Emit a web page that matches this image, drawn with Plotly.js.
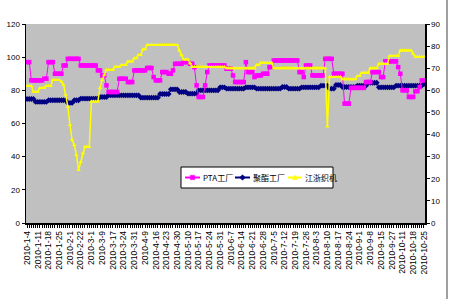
<!DOCTYPE html>
<html>
<head>
<meta charset="utf-8">
<script src="https://cdn.plot.ly/plotly-3.0.1.min.js"></script>
<style>html,body{margin:0;padding:0;background:#fff}#chart{width:450px;height:300px}</style>
</head>
<body>
<div id="chart"></div>
<script>
// Tick labels (every 5th trading day)
const tickLabels = ['2010-1-4','2010-1-11','2010-1-18','2010-1-25','2010-2-1','2010-2-22','2010-3-1','2010-3-9','2010-3-17','2010-3-24','2010-3-31','2010-4-9','2010-4-16','2010-4-23','2010-4-30','2010-5-10','2010-5-17','2010-5-24','2010-5-31','2010-6-7','2010-6-14','2010-6-21','2010-6-28','2010-7-5','2010-7-12','2010-7-19','2010-7-26','2010-8-3','2010-8-10','2010-8-17','2010-8-24','2010-9-1','2010-9-8','2010-9-15','2010-9-27','2010-10-11','2010-10-18','2010-10-25'];

const seriesNames = ['PTA工厂','聚酯工厂','江浙织机'];
const seriesColors = ['#ff00ff','#000080','#ffff00'];

// PTA工厂 (left axis)
const pta = [97,97, 86,86,86,86,86,86, 87,87, 97,97,97, 90,90,90,90, 95,95, 99,99,99,99,99,99,
 95,95,95,95,95,95,95,95, 92,92,89,89,83, 79,79,79,79,79, 87,87,87,87, 85,85,85,
 92,92,92,92,92,92, 93.5,93.5,93.5, 88, 86,86,86, 91,91,91, 90,90, 92, 96,96,96,96,
 97,97,97, 96,96, 94, 83, 76,76,76, 83, 91, 95,95,95,95,95,95,95,95, 93,93,93, 89,
 85,85,85,85,85, 97, 91,91,91, 88, 89,89,89, 90,90,90, 94,94,
 98,98,98,98,98,98,98,98,98,98,98,98, 91,91, 88, 95,95,95, 89,89,89,89,89,89,
 99,99,99,99, 90,90,90,90,90, 72,72,72, 81.5,81.5,81.5,81.5,81.5,81.5,81.5,
 85,85,85, 91,91,91,91, 88,88, 97.5,97.5,97.5,97.5,97.5,97.5, 94, 90, 80,80,80,
 76,76,76, 79.5,79.5, 82, 86,86];

// 聚酯工厂 (left axis)
const polyester = [74.8,74.8,74.8,74.8, 73,73,73,73,73,73, 74,74,74,74,74,74,74,74,74,
 72.4,72.4,72.4, 74,74,74, 75,75,75,75,75,75,75,75,75, 76,76,76,76,
 77,77,77,77,77,77,77,77,77,77,77,77,77,77,77, 75.6,75.6,75.6,75.6,75.6,75.6,75.6,75.6,75.6,
 77.8,77.8,77.8,77.8,77.8, 80.6,80.6,80.6,80.6, 79,79,79,79, 78,78,78,78,78,
 80,80,80,80,80,80,80,80,80,80, 81.8,81.8,81.8, 81,81,81,81,81,81,81,81,81,
 81.8,81.8,81.8,81.8,81.8, 81,81,81,81,81,81,81,81,81,81,81,81, 82,82,82,
 81,81,81,81,81,81, 81.8,81.8,81.8,81.8,81.8,81.8,81.8,81.8,81.8, 82.8,82.8,82.8,82.8,
 81,81,81, 83.2,83.2,83.2, 82,82,82,82,82,82,82, 82.8,82.8,82.8,82.8,82.8,
 84.6,84.6,84.6,84.6,84.6, 81.8,81.8,81.8,81.8,81.8,81.8,81.8,81.8,
 82.8,82.8,82.8,82.8,82.8,82.8,82.8,82.8,82.8,82.8,82.8,82.8,82.8, 83.8];

// 江浙织机 (right axis)
const looms = [62,62,62, 59.4,59.4,59.4, 61,61,61, 62,62,62, 64.7,64.7,64.7,64.7, 64, 62.4, 58,
 52.6, 44.3, 37.5, 35.3, 30.8, 24, 27.7, 31.5, 34.5,34.5,34.5, 55,55,55,55, 61, 64.7, 67,
 69.2,69.2,69.2,69.2, 70.7,70.7,70.7, 71.5,71.5,71.5, 73,73,73, 74.5,74.5, 76,76, 78.6,78.6,
 80.5,80.5,80.5,80.5,80.5,80.5,80.5,80.5,80.5,80.5,80.5,80.5,80.5,80.5,80.5, 78, 76, 74,74,74, 72.2,
 70.5,70.5,70.5,70.5,70.5,70.5,70.5,70.5,70.5,70.5,70.5,70.5,70.5,70.5,70.5,70.5,
 70,70,70,70,70,70,70,70,70,70,70,70,70,70, 71.5,71.5, 72.5,72.5,72.5,72.5,72.5,72.5,
 70,70,70,70,70,70,70,70,70,70,70,70,70,70,70,70,70,70,70,70,70,70,70,70,70, 43.6,
 66,66,66,66,66,66, 65,65,65,65,65,65,65, 66.5,66.5, 68,68,68,68, 70,70,70,70,
 72,72,72,72,72, 75.5,75.5,75.5,75.5,75.5, 78,78,78,78,78,78, 76.5, 75.2,75.2,75.2,75.2,75.2];

const idx = pta.map((_, i) => i);
const tickVals = tickLabels.map((_, k) => k * 5);

const axisFont = {family: 'Liberation Sans, Arial, sans-serif', size: 8, color: '#000'};

const traces = [
  {x: idx, y: looms, name: seriesNames[2], type: 'scatter', mode: 'lines+markers', yaxis: 'y2',
   line: {color: seriesColors[2], width: 1.5}, marker: {symbol: 'triangle-up', size: 4, color: seriesColors[2]}},
  {x: idx, y: polyester, name: seriesNames[1], type: 'scatter', mode: 'lines+markers',
   line: {color: seriesColors[1], width: 1}, marker: {symbol: 'diamond', size: 4.5, color: seriesColors[1]}},
  {x: idx, y: pta, name: seriesNames[0], type: 'scatter', mode: 'lines+markers',
   line: {color: seriesColors[0], width: 1}, marker: {symbol: 'square', size: 4.5, color: seriesColors[0]}}
];

// Custom legend (box, sample lines, sample markers, text) in paper coordinates
const PL = 26, PW = 399, PT = 24, PH = 199;
const px = v => (v - PL) / PW;
const py = v => (PT + PH - v) / PH;
const legY = py(177.5);
const legItems = [
  {l0: 185, l1: 200, tx: 201, path: 'M-2.2,-2.2 L2.2,-2.2 L2.2,2.2 L-2.2,2.2 Z'},
  {l0: 235, l1: 250, tx: 251, path: 'M0,-2.8 L2.8,0 L0,2.8 L-2.8,0 Z'},
  {l0: 288, l1: 302, tx: 303, path: 'M-2.5,-2 L2.5,-2 L0,2.5 Z'}
];
const shapes = [
  {type: 'rect', xref: 'paper', yref: 'paper', x0: px(181), x1: px(333), y0: py(188), y1: py(167),
   fillcolor: '#ffffff', line: {color: '#000', width: 1}},
  {type: 'line', xref: 'paper', yref: 'paper', x0: px(447), x1: px(447), y0: py(299), y1: py(0),
   line: {color: '#404040', width: 1}}
];
const annotations = [];
legItems.forEach((it, k) => {
  shapes.push({type: 'line', xref: 'paper', yref: 'paper', x0: px(it.l0), x1: px(it.l1), y0: legY, y1: legY,
    line: {color: seriesColors[k], width: 2}});
  shapes.push({type: 'path', xref: 'paper', yref: 'paper', xsizemode: 'pixel', ysizemode: 'pixel',
    xanchor: px((it.l0 + it.l1) / 2), yanchor: legY, path: it.path,
    fillcolor: seriesColors[k], line: {color: seriesColors[k], width: 0.5}});
  annotations.push({xref: 'paper', yref: 'paper', x: px(it.tx), y: legY, xanchor: 'left', yanchor: 'middle',
    text: seriesNames[k], showarrow: false,
    font: {family: 'Noto Sans CJK SC, sans-serif', size: 8, color: '#000'}});
});

const layout = {
  width: 450, height: 300,
  margin: {l: 26, r: 25, t: 24, b: 77, pad: 0},
  paper_bgcolor: '#ffffff',
  plot_bgcolor: '#c0c0c0',
  showlegend: false,
  xaxis: {range: [-0.5, 185.5], tickmode: 'array', tickvals: tickVals, ticktext: tickLabels,
    tickangle: -90, tickfont: {family: 'Liberation Sans, Arial, sans-serif', size: 8.5, color: '#000'},
    showline: true, linecolor: '#000', linewidth: 1.5, ticks: 'outside', ticklen: 3, tickcolor: '#000',
    minor: {tickmode: 'linear', tick0: 0, dtick: 1, ticks: 'outside', ticklen: 3, tickcolor: '#000', tickwidth: 1},
    showgrid: false, zeroline: false, fixedrange: true},
  yaxis: {range: [0, 120], dtick: 20, tickfont: axisFont, showline: true, linecolor: '#000', linewidth: 1.5,
    ticks: 'outside', ticklen: 3, tickcolor: '#000', showgrid: false, zeroline: false},
  yaxis2: {range: [0, 90], dtick: 10, overlaying: 'y', side: 'right', tickfont: axisFont,
    showline: true, linecolor: '#000', linewidth: 1.5, ticks: 'outside', ticklen: 3, tickcolor: '#000',
    showgrid: false, zeroline: false},
  shapes: shapes,
  annotations: annotations
};

Plotly.newPlot('chart', traces, layout, {displayModeBar: false, staticPlot: true});
</script>
</body>
</html>
